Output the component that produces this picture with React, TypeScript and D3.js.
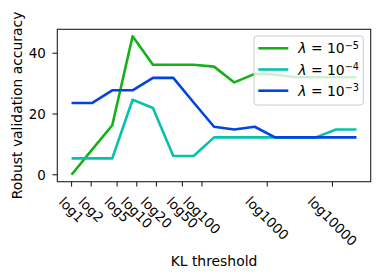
import React from 'react';
import * as d3 from 'd3';

// KL thresholds where each run was evaluated (points sit evenly on the log axis)
const thresholds = [1, 2.05, 4.21, 8.63, 17.7, 36.3, 74.5, 153, 313, 643, 1318, 2704, 5546, 11376, 23335];

const accLam5 = [0, 8.2, 16.3, 45.6, 36.2, 36.2, 36.2, 35.6, 30.4, 33.2, 33, 32.1, 32.1, 32.1, 32.1];
const accLam4 = [5.4, 5.4, 5.4, 24.7, 22, 6.2, 6.2, 12.3, 12.3, 12.3, 12.3, 12.3, 12.3, 14.9, 14.9];
const accLam3 = [23.6, 23.6, 27.8, 27.8, 31.9, 31.9, 23.8, 15.8, 14.9, 15.8, 12.3, 12.3, 12.3, 12.3, 12.3];

const seriesNames = ['-5', '-4', '-3'];
const seriesColors = ['#15b01a', '#06c2ac', '#0343df'];

const xTickValues = [1, 2, 5, 10, 20, 50, 100, 1000, 10000];
const xTickLabels = ['log1', 'log2', 'log5', 'log10', 'log20', 'log50', 'log100', 'log1000', 'log10000'];
const yTickValues = [0, 20, 40];

const width = 381;
const height = 280;
const margin = { top: 29.3, right: 10.3, bottom: 98.3, left: 57.3 };

const App = () => {
    const series = [accLam5, accLam4, accLam3];
    const innerW = width - margin.left - margin.right;
    const innerH = height - margin.top - margin.bottom;

    // matplotlib-style 5% padding on both axes
    const lx = thresholds.map((t) => Math.log10(t));
    const lxMin = d3.min(lx), lxMax = d3.max(lx);
    const padX = (lxMax - lxMin) * 0.05;
    const xScale = d3
        .scaleLog()
        .domain([Math.pow(10, lxMin - padX), Math.pow(10, lxMax + padX)])
        .range([0, innerW]);

    const all = series.flat();
    const yMin = d3.min(all), yMax = d3.max(all);
    const padY = (yMax - yMin) * 0.05;
    const yScale = d3
        .scaleLinear()
        .domain([yMin - padY, yMax + padY])
        .range([innerH, 0]);

    const line = d3
        .line()
        .x((d) => xScale(d[0]))
        .y((d) => yScale(d[1]));

    const font = 'DejaVu Sans, sans-serif';
    const tickFs = 13.4;

    return (
        <svg width={width} height={height} style={{ position: 'absolute', left: 0, top: 0 }} fontFamily={font}>
            <rect width={width} height={height} fill="#fff" />
            <g transform={`translate(${margin.left},${margin.top})`}>
                {series.map((vals, i) => (
                    <path
                        key={i}
                        d={line(vals.map((v, j) => [thresholds[j], v]))}
                        fill="none"
                        stroke={seriesColors[i]}
                        strokeWidth={2.6}
                        strokeLinejoin="round"
                    />
                ))}

                {/* spines */}
                <rect x={0} y={0} width={innerW} height={innerH} fill="none" stroke="#222" strokeWidth={1.1} />

                {/* y axis */}
                {yTickValues.map((v) => (
                    <g key={v} transform={`translate(0,${yScale(v)})`}>
                        <line x1={-4.9} x2={0} stroke="#222" strokeWidth={1.1} />
                        <text x={-11.5} dy="0.36em" textAnchor="end" fontSize={tickFs} fill="#000">
                            {v}
                        </text>
                    </g>
                ))}

                {/* x axis */}
                {xTickValues.map((v, i) => {
                    const label = xTickLabels[i];
                    const w = label.length * 0.6 * tickFs + 2;
                    const cy = innerH + 12 + (w + 11) * 0.3535;
                    return (
                        <g key={v}>
                            <line x1={xScale(v)} x2={xScale(v)} y1={innerH} y2={innerH + 4.9} stroke="#222" strokeWidth={1.1} />
                            <text
                                transform={`translate(${xScale(v)},${cy}) rotate(45)`}
                                textAnchor="middle"
                                dy="0.36em"
                                fontSize={tickFs}
                                fill="#000"
                            >
                                {label}
                            </text>
                        </g>
                    );
                })}

                {/* legend */}
                <g transform={`translate(${254 - margin.left},${36 - margin.top})`}>
                    <rect x={0} y={0} width={109.3} height={69} rx={3} fill="#fff" fillOpacity={0.8} stroke="#ccc" strokeWidth={1} />
                    {seriesNames.map((n, i) => (
                        <g key={n} transform={`translate(0,${12.3 + i * 21.2})`}>
                            <line x1={4.3} x2={34.3} stroke={seriesColors[i]} strokeWidth={2.6} />
                            <text x={44.3} dy="0.36em" fontSize={13.9} fill="#000">
                                <tspan fontStyle="italic">λ</tspan>
                                <tspan> = 10</tspan>
                                <tspan dy="-0.45em" fontSize={9.7}>{'\u2212' + n.slice(1)}</tspan>
                            </text>
                        </g>
                    ))}
                </g>
            </g>

            {/* axis titles */}
            <text x={margin.left + innerW / 2} y={266} textAnchor="middle" fontSize={13.9} fill="#000">
                KL threshold
            </text>
            <text
                transform={`translate(21.5,${margin.top + innerH / 2}) rotate(-90)`}
                textAnchor="middle"
                fontSize={13.9}
                fill="#000"
            >
                Robust validation accuracy
            </text>
        </svg>
    );
};

export default App;
